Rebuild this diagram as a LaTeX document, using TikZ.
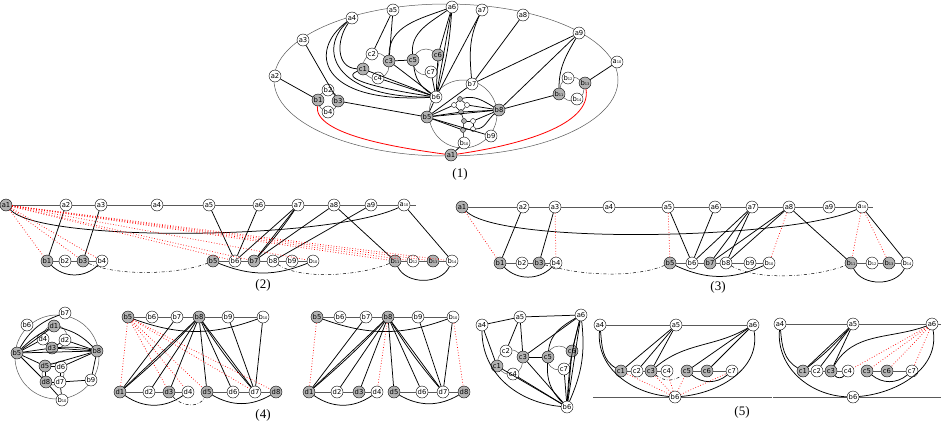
\documentclass[tikz,border=0pt]{standalone}
\usepackage{fontspec}
\setmainfont{Liberation Serif}
\newfontfamily\vfont{DejaVu Sans}
\usepackage{tikz}
\usetikzlibrary{positioning}
\newcommand\vlab[2]{#1\ifnum#2>9 {\fontsize{3.6}{4}\selectfont#2}\else #2\fi}
\tikzset{
  vw/.style={circle,draw,fill=white,inner sep=0pt,minimum size=12pt,line width=0.4pt,
    font=\vfont\fontsize{6.8}{6.8}\selectfont},
  vg/.style={vw,fill=gray!60},
  vt/.style={circle,draw,fill=white,inner sep=0pt,minimum size=5pt,line width=0.4pt},
  vtg/.style={vt,fill=gray!60},
  rim/.style={draw=gray!70!black,line width=0.5pt},
  ed/.style={line width=0.75pt},
  rdot/.style={red,dotted,line width=0.7pt},
  ddot/.style={dash dot,line width=0.5pt},
  tag/.style={font=\fontsize{13}{13}\selectfont}
}

\begin{document}
\begin{tikzpicture}[x=1pt,y=-1pt]
  \useasboundingbox (0,0) rectangle (941,439);

  %% (1) the whole graph
  \draw[rim] (446,80) ellipse (172 and 76);
  \draw[rim] (463,114) circle (34);
  \draw[rim] (376,66) circle (13);
  \draw[rim] (426,62) circle (13);
  \draw[rim] (328,101) circle (10);
  \draw[rim] (572,89) circle (12);

  \foreach \n/\x/\y/\s in {1/451/155/vg,2/275/76/vw,3/303/40/vw,4/352/18/vw,5/393/10/vw,
      6/452/7/vw,7/482/10/vw,8/523/15/vw,9/579/33/vw,10/617/62/vw}
    \node[\s] (Aa\n) at (\x,\y) {\vlab{a}{\n}};
  \foreach \n/\x/\y/\s in {1/363/69/vg,2/372/54/vw,3/389/61/vg,4/378/78/vw,
      5/413/60/vg,6/438/55/vg,7/431/72/vw}
    \node[\s] (Ac\n) at (\x,\y) {\vlab{c}{\n}};
  \foreach \n/\x/\y/\s in {1/318/100/vg,2/328/90/vw,3/338/101/vg,4/328/112/vw,
      5/427/117/vg,6/436/97/vw,7/472/84/vw,8/499/110/vg,9/491/136/vw,10/464/143/vw,
      11/559/94/vg,12/568/78/vw,13/585/83/vg,14/577/99/vw}
    \node[\s] (Ab\n) at (\x,\y) {\vlab{b}{\n}};
  \foreach \n/\x/\y/\s in {1/460/99/vtg,2/454/105/vt,3/467/105/vt,4/461/112/vtg,
      5/464/121/vtg,6/473/121/vt,7/463/130/vtg,8/473/129/vt}
    \node[\s] (At\n) at (\x,\y) {};

  \begin{scope}[ed]
    \draw (Aa2) -- (Ab1);
    \draw (Aa3) -- (Ab3);
    \draw (Ab3) -- (Ab5);
    \draw (Aa4) .. controls (336,40) and (336,68) .. (Ac1);
    \draw (Aa4) .. controls (308,50) and (318,104) .. (Ab6);
    \draw (Aa4) .. controls (318,48) and (332,98) .. (Ab6);
    \draw (Ac1) .. controls (335,80) and (400,92) .. (Ab6);
    \draw (Aa5) -- (Ac2);
    \draw (Aa5) -- (Ac3);
    \draw (Aa6) to[out=200,in=90] (Ac3);
    \draw (Aa6) to[out=215,in=95] (Ac5);
    \draw (Aa6) -- (Ac6);
    \draw (Aa6) -- (Ab6);
    \draw (Aa6) to[bend left=6] (Ab6);
    \draw (Ac3) -- (Ac5);
    \draw (Ac1) -- (Ab6);
    \draw (Ac3) -- (Ab6);
    \draw (Ac4) -- (Ab6);
    \draw (Ac5) to[bend right=25] (Ab6);
    \draw (Ac6) -- (Ab6);
    \draw (Ac7) -- (Ab6);
    \draw (Aa7) -- (Ab6);
    \draw (Aa7) to[out=-115,in=95] (Ab7);
    \draw (Aa8) -- (Ab7);
    \draw (Aa9) -- (Ab7);
    \draw (Aa9) -- (Ab8);
    \draw (Aa9) to[out=-120,in=90] (Ab11);
    \draw (Aa10) -- (Ab13);
    \draw (Ab8) -- (Ab11);
    \draw (Ab5) -- (Ab6);
    \draw (Ab5) -- (Ab7);
    \draw (Ab5) -- (Ab8);
    \draw (Ab5) -- (At2);
    \draw (Ab5) -- (At4);
    \draw (Ab5) -- (At7);
    \draw (Ab5) -- (Ab9);
    \draw (Ab8) to[out=150,in=15] (At1);
    \draw (Ab8) -- (At3);
    \draw (Ab8) -- (At4);
    \draw (Ab8) -- (At6);
    \draw (Ab8) to[out=-140,in=0] (At8);
    \draw (Ab10) -- (Aa1);
  \end{scope}
  \foreach \u/\v in {1/2,1/3,2/4,3/4,4/5,5/6,5/7,6/8,7/8}
    \draw[line width=0.5pt] (At\u) -- (At\v);
  \draw[line width=0.5pt] (At7) -- (Ab10);
  \draw[red,line width=0.8pt] (Ab1) .. controls (314,135) and (400,148) .. (Aa1);
  \draw[red,line width=0.8pt] (Ab13) .. controls (592,125) and (520,145) .. (Aa1);
  \node[tag] (lab1) at (460,174) {(1)};

  %% (2)
  \def\rowA{205}
  \def\rowB{261}
  \foreach \n/\x/\s in {1/6/vg,2/66/vw,3/101/vw,4/157/vw,5/209/vw,6/259/vw,7/298/vw,
      8/334/vw,9/371/vw,10/404/vw}
    \node[\s] (Ba\n) at (\x,\rowA) {\vlab{a}{\n}};
  \foreach \n/\x/\s in {1/47/vg,2/65/vw,3/83/vg,4/102/vw,5/213/vg,6/235/vw,7/254/vg,
      8/273/vw,9/292/vw,10/313/vw,11/395/vg,12/413/vw,13/433/vg,14/452/vw}
    \node[\s] (Bb\n) at (\x,\rowB) {\vlab{b}{\n}};
  \coordinate (Bend) at (416,\rowA);
  \foreach \i [count=\j from 2] in {1,...,9}
    \draw[rim] (Ba\i) -- (Ba\j);
  \draw[rim] (Ba10) -- (Bend);
  \foreach \i/\j in {1/2,2/3,3/4,5/6,6/7,7/8,8/9,9/10,11/12,12/13,13/14}
    \draw[rim] (Bb\i) -- (Bb\j);
  \foreach \u/\v in {a2/b1,a3/b3,a5/b6,a6/b6,a7/b6,a7/b7,a8/b7,a9/b8,a8/b11,a10/b14}
    \draw[ed] (B\u) -- (B\v);
  \draw[ed] (Ba7) to[bend left=4] (Bb7);
  \draw[ed] (Ba1) .. controls (40,243) and (330,240) .. (Ba10);
  \draw[ed] (Bb1) to[out=-45,in=-135] (Bb4);
  \draw[ed] (Bb5) to[out=-22,in=-158] (Bb10);
  \draw[ed] (Bb11) to[out=-65,in=-115] (Bb14);
  \draw[ddot] (Bb3) .. controls (120,277) and (180,274) .. (Bb5);
  \draw[ddot] (Bb8) .. controls (300,280) and (360,276) .. (Bb11);
  \foreach \v in {b1,b3,b4,b6,b7,b10,b11,b12,b13,b14}
    \draw[rdot] (Ba1) -- (B\v);
  \node[tag] (lab2) at (263,285) {(2)};

  %% (3)
  \def\rowA{207}
  \def\rowB{263}
  \foreach \n/\x/\s in {1/462/vg,2/523/vw,3/555/vw,4/609/vw,5/668/vw,6/715/vw,7/752/vw,
      8/789/vw,9/829/vw,10/862/vw}
    \node[\s] (Ca\n) at (\x,\rowA) {\vlab{a}{\n}};
  \foreach \n/\x/\s in {1/500/vg,2/522/vw,3/539/vg,4/556/vw,5/670/vg,6/692/vw,7/710/vg,
      8/726/vw,9/750/vw,10/769/vw,11/851/vg,12/872/vw,13/889/vg,14/907/vw}
    \node[\s] (Cb\n) at (\x,\rowB) {\vlab{b}{\n}};
  \coordinate (Cend) at (873,\rowA);
  \foreach \i [count=\j from 2] in {1,...,9}
    \draw[rim] (Ca\i) -- (Ca\j);
  \draw[rim] (Ca10) -- (Cend);
  \foreach \i/\j in {1/2,2/3,3/4,5/6,6/7,7/8,8/9,9/10,11/12,12/13,13/14}
    \draw[rim] (Cb\i) -- (Cb\j);
  \foreach \u/\v in {a2/b1,a3/b3,a5/b6,a6/b6,a7/b6,a7/b7,a7/b8,a8/b7,a8/b8,a8/b11,a10/b14}
    \draw[ed] (C\u) -- (C\v);
  \draw[ed] (Ca1) .. controls (500,245) and (790,240) .. (Ca10);
  \draw[ed] (Cb1) to[out=-45,in=-135] (Cb4);
  \draw[ed] (Cb5) to[out=-25,in=-155] (Cb10);
  \draw[ed] (Cb11) to[out=-65,in=-115] (Cb14);
  \draw[ddot] (Cb3) .. controls (590,278) and (640,276) .. (Cb5);
  \draw[ddot] (Cb8) .. controls (760,282) and (820,276) .. (Cb11);
  \foreach \u/\v in {a1/b1,a3/b4,a5/b5,a8/b10,a10/b11,a10/b13}
    \draw[rdot] (C\u) -- (C\v);
  \node[tag] (lab3) at (718,287) {(3)};

  %% (4) round part
  \draw[rim] (57,357) circle (42);
  \draw[rim] (55,337) circle (12);
  \draw[rim] (53,374) circle (11);
  \foreach \n/\x/\y/\s in {5/17/353/vg,6/27/325/vw,7/65/313/vw,8/97/351/vg,9/91/380/vw,10/62/400/vw}
    \node[\s] (Db\n) at (\x,\y) {\vlab{b}{\n}};
  \foreach \n/\x/\y/\s in {1/54/326/vg,2/65/340/vw,3/52/348/vg,4/43/339/vw,
      5/45/366/vg,6/61/367/vw,7/60/382/vw,8/46/382/vg}
    \node[\s] (Dd\n) at (\x,\y) {\vlab{d}{\n}};
  \draw[ed] (Db5) to[bend left=20] (Db7);
  \draw[ed] (Db5) to[bend left=8] (Dd1);
  \draw[ed] (Dd1) to[bend left=15] (Db8);
  \foreach \u/\v in {b5/d1,b5/d4,b5/d3,b5/b8,b5/d5,b5/d8,b8/d3,b8/d2,b8/d5,b8/d6,
      d3/d4,d3/d2,d5/d6,d5/d8,d6/d7,d8/d7,d7/b9,d7/b10,d8/b10,b8/b9}
    \draw[ed] (D\u) -- (D\v);
  \draw[ed] (Db8) to[bend right=8] (Dd3);

  %% (4) first row layout
  \def\rowA{317}
  \def\rowB{392}
  \foreach \n/\x/\s in {5/128/vg,6/152/vw,7/177/vw,8/199/vg,9/228/vw,10/263/vw}
    \node[\s] (Eb\n) at (\x,\rowA) {\vlab{b}{\n}};
  \foreach \n/\x/\s in {1/120/vg,2/149/vw,3/169/vg,4/188/vw,5/207/vg,6/233/vw,7/255/vw,8/276/vg}
    \node[\s] (Ed\n) at (\x,\rowB) {\vlab{d}{\n}};
  \foreach \i/\j in {5/6,6/7,7/8,8/9,9/10}
    \draw[rim] (Eb\i) -- (Eb\j);
  \foreach \i/\j in {1/2,2/3,3/4,5/6,6/7,7/8}
    \draw[rim] (Ed\i) -- (Ed\j);
  \foreach \u/\v in {b7/d1,b8/d1,b8/d2,b8/d3,b8/d5,b8/d6,b8/d7,b9/d7,b10/d7}
    \draw[ed] (E\u) -- (E\v);
  \draw[ed] (Eb8) to[bend left=3] (Ed1);
  \draw[ed] (Eb8) to[bend right=4] (Ed7);
  \draw[ed] (Eb5) to[out=-20,in=-160] (Eb10);
  \draw[ed] (Ed1) to[out=-35,in=-145] (Ed4);
  \draw[ed] (Ed5) to[out=-30,in=-150] (Ed8);
  \draw[ddot] (Ed3) to[out=-50,in=-115] (Ed5);
  \foreach \v in {d1,d3,d4,d5,d7,d8}
    \draw[rdot] (Eb5) -- (E\v);
  \node[tag] (lab4) at (263,415) {(4)};

  %% (4) second row layout
  \foreach \n/\x/\s in {5/317/vg,6/340/vw,7/366/vw,8/388/vg,9/418/vw,10/453/vw}
    \node[\s] (Fb\n) at (\x,\rowA) {\vlab{b}{\n}};
  \foreach \n/\x/\s in {1/309/vg,2/337/vw,3/359/vg,4/377/vw,5/394/vg,6/422/vw,7/443/vw,8/464/vg}
    \node[\s] (Fd\n) at (\x,\rowB) {\vlab{d}{\n}};
  \foreach \i/\j in {5/6,6/7,7/8,8/9,9/10}
    \draw[rim] (Fb\i) -- (Fb\j);
  \foreach \i/\j in {1/2,2/3,3/4,5/6,6/7,7/8}
    \draw[rim] (Fd\i) -- (Fd\j);
  \foreach \u/\v in {b7/d1,b8/d1,b8/d2,b8/d3,b8/d5,b8/d6,b8/d7,b9/d7,b10/d7}
    \draw[ed] (F\u) -- (F\v);
  \draw[ed] (Fb8) to[bend left=3] (Fd1);
  \draw[ed] (Fb8) to[bend right=4] (Fd7);
  \draw[ed] (Fb5) to[out=-20,in=-160] (Fb10);
  \draw[ed] (Fd1) to[out=-35,in=-145] (Fd4);
  \draw[ed] (Fd5) to[out=-30,in=-150] (Fd8);
  \foreach \u/\v in {b5/d1,b8/d4,b10/d8}
    \draw[rdot] (F\u) -- (F\v);

  %% (5) round part
  \draw[rim] (510,362) circle (12.5);
  \draw[rim] (559,358) circle (12);
  \foreach \n/\x/\y in {4/482/325,5/520/317,6/581/315}
    \node[vw] (Ga\n) at (\x,\y) {\vlab{a}{\n}};
  \foreach \n/\x/\y/\s in {1/497/366/vg,2/506/351/vw,3/523/357/vg,4/513/374/vw,
      5/548/357/vg,6/572/351/vg,7/564/369/vw}
    \node[\s] (Gc\n) at (\x,\y) {\vlab{c}{\n}};
  \node[vw] (Gb6) at (567,407) {b6};
  \foreach \u/\v in {a4/a5,a5/a6,a4/c1,a5/c2,a5/c3,a6/c3,a6/c6,a6/b6,c3/c5,c3/b6,
      c1/b6,c4/b6,c6/b6,c7/b6}
    \draw[ed] (G\u) -- (G\v);
  \draw[ed] (Ga4) to[out=-90,in=175] (Gb6);
  \draw[ed] (Ga6) to[out=210,in=85] (Gc5);
  \draw[ed] (Ga6) to[bend left=15] (Gb6);
  \draw[ed] (Ga6) to[bend right=6] (Gb6);
  \draw[ed] (Gc5) to[bend right=25] (Gb6);

  %% (5) first row layout
  \foreach \n/\x in {4/600,5/676,6/753}
    \node[vw] (Ha\n) at (\x,325) {\vlab{a}{\n}};
  \foreach \n/\x/\s in {1/621/vg,2/637/vw,3/651/vg,4/667/vw,5/687/vg,6/707/vg,7/732/vw}
    \node[\s] (Hc\n) at (\x,371) {\vlab{c}{\n}};
  \node[vw] (Hb6) at (675,397) {b6};
  \coordinate (Hleft) at (593,397);
  \coordinate (Hright) at (772,397);
  \draw[rim] (Hleft) -- (Hb6) -- (Hright);
  \draw[rim] (Ha4) -- (Ha5) -- (Ha6);
  \foreach \i/\j in {1/2,2/3,3/4,5/6,6/7}
    \draw[rim] (Hc\i) -- (Hc\j);
  \foreach \u/\v in {a5/c1,a5/c2,a5/c3,a6/c5,a6/c6}
    \draw[ed] (H\u) -- (H\v);
  \draw[ed] (Ha4) to[out=-85,in=150] (Hc1);
  \draw[ed] (Ha4) to[out=-95,in=175] (Hb6);
  \draw[ed] (Ha6) to[out=-150,in=40] (Hc3);
  \draw[ed] (Ha6) to[out=-80,in=5] (Hb6);
  \draw[ed] (Hc5) to[out=-40,in=-140] (Hc7);
  \draw[ddot] (Hc3) to[out=-40,in=-140] (Hc5);
  \foreach \v in {c1,c3,c4,c5,c7}
    \draw[rdot] (Hb6) -- (H\v);
  \node[tag] (lab5) at (742,412) {(5)};

  %% (5) second row layout
  \foreach \n/\x in {4/780,5/853,6/932}
    \node[vw] (Ia\n) at (\x,324) {\vlab{a}{\n}};
  \foreach \n/\x/\s in {1/803/vg,2/817/vw,3/831/vg,4/848/vw,5/867/vg,6/887/vg,7/912/vw}
    \node[\s] (Ic\n) at (\x,371) {\vlab{c}{\n}};
  \node[vw] (Ib6) at (853,397) {b6};
  \coordinate (Ileft) at (773,397);
  \coordinate (Iright) at (941,397);
  \coordinate (Itop) at (941,324);
  \draw[rim] (Ileft) -- (Ib6) -- (Iright);
  \draw[rim] (Ia4) -- (Ia5) -- (Ia6) -- (Itop);
  \foreach \i/\j in {1/2,2/3,3/4,5/6,6/7}
    \draw[rim] (Ic\i) -- (Ic\j);
  \foreach \u/\v in {a5/c1,a5/c2,a5/c3}
    \draw[ed] (I\u) -- (I\v);
  \draw[ed] (Ia5) to[bend left=5] (Ic1);
  \draw[ed] (Ia4) to[out=-85,in=150] (Ic1);
  \draw[ed] (Ia4) to[out=-95,in=178] (Ib6);
  \draw[ed] (Ia6) to[out=-160,in=60] (Ic3);
  \draw[ed] (Ia6) to[out=-80,in=5] (Ib6);
  \draw[ed] (Ic3) to[out=-50,in=-130] (Ic4);
  \draw[ed] (Ic5) to[out=-40,in=-140] (Ic7);
  \foreach \v in {c4,c5,c6,c7}
    \draw[rdot] (Ia6) -- (I\v);
\end{tikzpicture}
\end{document}
